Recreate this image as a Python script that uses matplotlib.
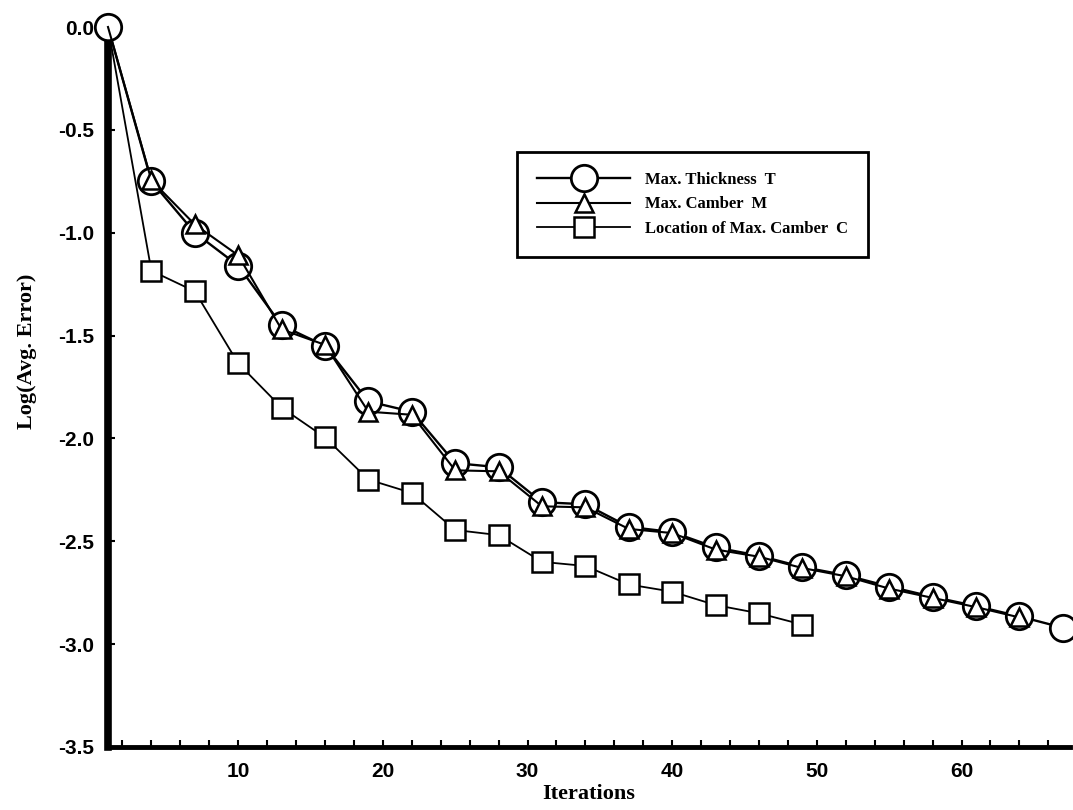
import numpy as np
import matplotlib
matplotlib.use("Agg")
import matplotlib.pyplot as plt
from matplotlib.ticker import MultipleLocator, FormatStrFormatter

plt.rcParams['axes.unicode_minus'] = False

# iterations (every 3rd) and log of average error
iter_t = [1, 4, 7, 10, 13, 16, 19, 22, 25, 28, 31, 34, 37, 40, 43, 46, 49, 52, 55, 58, 61, 64, 67]
thickness = [0.0, -0.75, -1.00, -1.16, -1.45, -1.55, -1.82, -1.87, -2.12, -2.14, -2.31, -2.32,
             -2.43, -2.455, -2.53, -2.57, -2.625, -2.665, -2.72, -2.77, -2.815, -2.865, -2.92]

iter_m = iter_t[:22]
camber = [0.0, -0.745, -0.96, -1.11, -1.47, -1.545, -1.87, -1.885, -2.155, -2.16, -2.33, -2.335,
          -2.44, -2.46, -2.54, -2.575, -2.63, -2.67, -2.73, -2.775, -2.82, -2.87]

iter_c = iter_t[:17]
camber_loc = [0.0, -1.185, -1.285, -1.635, -1.85, -1.995, -2.20, -2.265, -2.445, -2.47, -2.60,
              -2.62, -2.71, -2.745, -2.81, -2.85, -2.905]

labels = ["Max. Thickness  T", "Max. Camber  M", "Location of Max. Camber  C"]

fig = plt.figure(figsize=(10.73, 8.10), dpi=100)
ax = fig.add_axes([108 / 1073, 63 / 810, 962 / 1073, 720 / 810])

ax.plot(iter_c, camber_loc, color="black", lw=1.3, marker="s", ms=14, mfc="white",
        mec="black", mew=1.8, markevery=slice(1, None), zorder=2, clip_on=False, label=labels[2])
ax.plot(iter_t, thickness, color="black", lw=1.7, marker="o", ms=19, mfc="white",
        mec="black", mew=2.0, zorder=3, clip_on=False, label=labels[0])
ax.plot(iter_m, camber, color="black", lw=1.5, marker="^", ms=13, mfc="white",
        mec="black", mew=1.8, markevery=slice(1, None), zorder=4, clip_on=False, label=labels[1])

ax.set_xlim(1, 67.5)
ax.set_ylim(-3.5, 0)

ax.spines['top'].set_visible(False)
ax.spines['right'].set_visible(False)
ax.spines['left'].set_linewidth(5.5)
ax.spines['bottom'].set_linewidth(3.5)

ax.xaxis.set_major_locator(MultipleLocator(10))
ax.xaxis.set_minor_locator(MultipleLocator(2))
ax.yaxis.set_major_locator(MultipleLocator(0.5))
ax.yaxis.set_major_formatter(FormatStrFormatter('%.1f'))

tick_font = dict(family="Liberation Sans", weight="bold", size=15)
ax.tick_params(axis='x', which='both', direction='in', length=5, width=1.5, pad=11)
ax.tick_params(axis='y', which='major', direction='in', length=5, width=1.5, pad=10)
for lab in ax.get_xticklabels() + ax.get_yticklabels():
    lab.set_fontproperties(tick_font)

label_font = dict(family="Liberation Serif", weight="bold", size=16)
ax.set_xlabel("Iterations", fontdict=label_font, labelpad=2)
ax.set_ylabel("Log(Avg. Error)", fontdict=label_font)
ax.yaxis.set_label_coords(-0.074, 0.55)

h, l = ax.get_legend_handles_labels()
order = [1, 2, 0]
leg = ax.legend([h[i] for i in order], [l[i] for i in order],
                loc="upper left", bbox_to_anchor=(517 / 1073, 1 - 152 / 810),
                bbox_transform=fig.transFigure, fancybox=False, edgecolor="black",
                framealpha=1, handlelength=5.6, handletextpad=0.9, labelspacing=0.5,
                borderpad=1.2, borderaxespad=0,
                prop=dict(family="Liberation Serif", weight="bold", size=12))
leg.get_frame().set_linewidth(2)
leg.legend_handles[0].set_markersize(19)

fig.savefig("out.png", dpi=100)
